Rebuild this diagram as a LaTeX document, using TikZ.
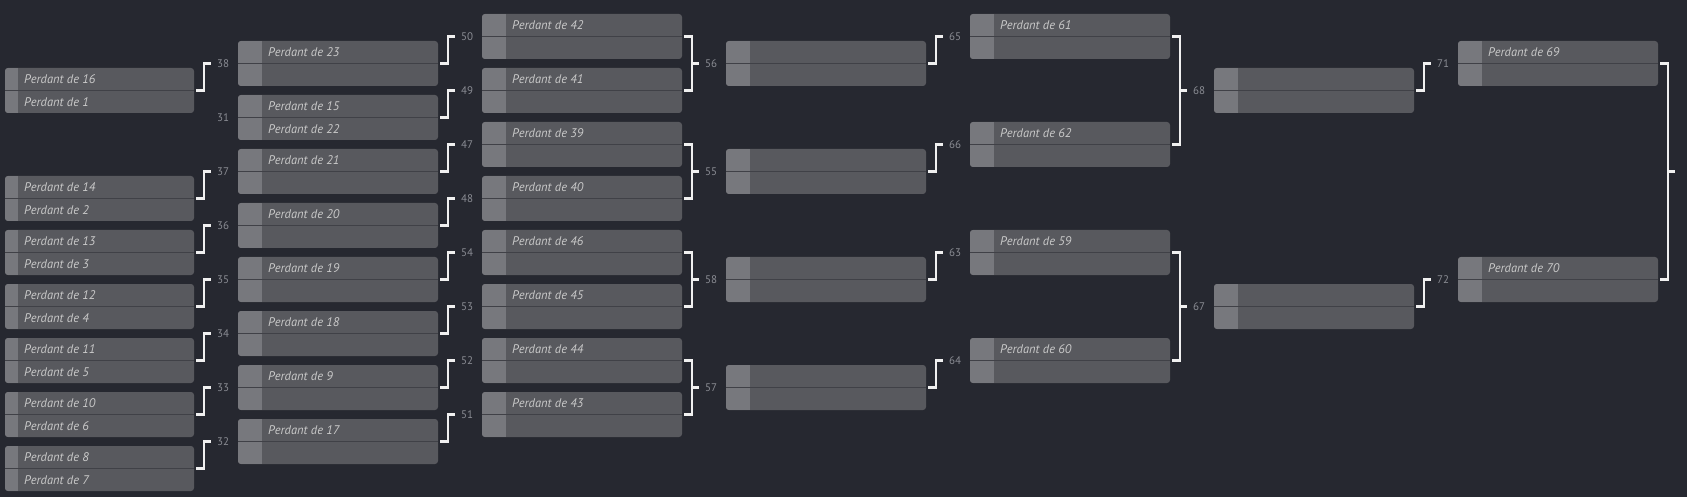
\documentclass[tikz,border=0pt]{standalone}
\usepackage{fontspec}
\setmainfont{PT Sans}
\usetikzlibrary{calc}
\definecolor{bg}{HTML}{262830}
\definecolor{boxc}{HTML}{58595E}
\definecolor{stripc}{HTML}{77787D}
\definecolor{divc}{HTML}{404147}
\definecolor{txtc}{HTML}{C9C9C9}
\definecolor{lblc}{HTML}{8B8D94}
\definecolor{linec}{HTML}{F0F0F0}
\tikzset{
  mbox/.style={fill=boxc, draw=none, rounded corners=3pt, minimum height=45pt, inner sep=0pt, outer sep=0pt},
  divline/.style={draw=divc, line width=1pt},
  ptxt/.style={anchor=west, inner sep=0pt, text=txtc, font=\fontsize{12.5}{15}\selectfont\itshape, text height=8.75pt, text depth=0pt},
  lbl/.style={anchor=west, inner sep=0pt, text=lblc, font=\fontsize{11}{13}\selectfont, text height=7.7pt, text depth=0pt},
  conn/.style={draw=linec, line width=2.2pt, line join=miter}
}
% name, x, ytop, width, strip, top text, bottom text
\newcommand{\matchb}[7]{%
  \node[mbox, minimum width=#4pt, anchor=north west] (#1) at (#2,#3) {};
  \begin{scope}
    \clip[rounded corners=3pt] (#1.north west) rectangle (#1.south east);
    \fill[stripc] (#1.north west) rectangle ([xshift=#5pt]#1.south west);
  \end{scope}
  \draw[divline] (#1.west) -- (#1.east);
  \if\relax\detokenize{#6}\relax\else
    \node[ptxt] (#1-t) at ($(#1.north west)!0.5!(#1.west)+(#5+6,0)$) {#6};
  \fi
  \if\relax\detokenize{#7}\relax\else
    \node[ptxt] (#1-b) at ($(#1.south west)!0.5!(#1.west)+(#5+6,0)$) {#7};
  \fi
}
% source, target, label
\newcommand{\stepc}[3]{%
  \draw[conn, shorten >=27pt] ([xshift=2pt]#1.east) -- ++(8,0) |- (#2.west);
  \node[lbl] (l#3) at ([xshift=-21pt]#2.west) {#3};
}
% upper source, lower source, target, label
\newcommand{\brackc}[4]{%
  \draw[conn] ([xshift=2pt]#1.east) -| ([xshift=10pt]#2.east) -- ([xshift=2pt]#2.east);
  \coordinate (v#4) at ([xshift=10pt]#1.east);
  \draw[conn, shorten >=27pt] (v#4 |- #3.west) -- (#3.west);
  \node[lbl] (l#4) at ([xshift=-21pt]#3.west) {#4};
}
\begin{document}
\begin{tikzpicture}[x=1pt,y=-1pt]
\fill[bg] (0,0) rectangle (1687,497);
\useasboundingbox (0,0) rectangle (1687,497);
% round 1
\matchb{a1}{5}{68}{189}{13}{Perdant de 16}{Perdant de 1}
\matchb{a3}{5}{176}{189}{13}{Perdant de 14}{Perdant de 2}
\matchb{a4}{5}{230}{189}{13}{Perdant de 13}{Perdant de 3}
\matchb{a5}{5}{284}{189}{13}{Perdant de 12}{Perdant de 4}
\matchb{a6}{5}{338}{189}{13}{Perdant de 11}{Perdant de 5}
\matchb{a7}{5}{392}{189}{13}{Perdant de 10}{Perdant de 6}
\matchb{a8}{5}{446}{189}{13}{Perdant de 8}{Perdant de 7}
% round 2
\matchb{b0}{238}{41}{200}{24}{Perdant de 23}{}
\matchb{b1}{238}{95}{200}{24}{Perdant de 15}{Perdant de 22}
\matchb{b2}{238}{149}{200}{24}{Perdant de 21}{}
\matchb{b3}{238}{203}{200}{24}{Perdant de 20}{}
\matchb{b4}{238}{257}{200}{24}{Perdant de 19}{}
\matchb{b5}{238}{311}{200}{24}{Perdant de 18}{}
\matchb{b6}{238}{365}{200}{24}{Perdant de 9}{}
\matchb{b7}{238}{419}{200}{24}{Perdant de 17}{}
% round 3
\matchb{c0}{482}{14}{200}{24}{Perdant de 42}{}
\matchb{c1}{482}{68}{200}{24}{Perdant de 41}{}
\matchb{c2}{482}{122}{200}{24}{Perdant de 39}{}
\matchb{c3}{482}{176}{200}{24}{Perdant de 40}{}
\matchb{c4}{482}{230}{200}{24}{Perdant de 46}{}
\matchb{c5}{482}{284}{200}{24}{Perdant de 45}{}
\matchb{c6}{482}{338}{200}{24}{Perdant de 44}{}
\matchb{c7}{482}{392}{200}{24}{Perdant de 43}{}
% round 4
\matchb{d0}{726}{41}{200}{24}{}{}
\matchb{d1}{726}{149}{200}{24}{}{}
\matchb{d2}{726}{257}{200}{24}{}{}
\matchb{d3}{726}{365}{200}{24}{}{}
% round 5
\matchb{e0}{970}{14}{200}{24}{Perdant de 61}{}
\matchb{e1}{970}{122}{200}{24}{Perdant de 62}{}
\matchb{e2}{970}{230}{200}{24}{Perdant de 59}{}
\matchb{e3}{970}{338}{200}{24}{Perdant de 60}{}
% round 6
\matchb{f0}{1214}{68}{200}{24}{}{}
\matchb{f1}{1214}{284}{200}{24}{}{}
% round 7
\matchb{g0}{1458}{41}{200}{24}{Perdant de 69}{}
\matchb{g1}{1458}{257}{200}{24}{Perdant de 70}{}
% connectors round 1 -> 2
\stepc{a1}{b0}{38}
\node[lbl] (l31) at ([xshift=-21pt]b1.west) {31};
\stepc{a3}{b2}{37}
\stepc{a4}{b3}{36}
\stepc{a5}{b4}{35}
\stepc{a6}{b5}{34}
\stepc{a7}{b6}{33}
\stepc{a8}{b7}{32}
% round 2 -> 3
\stepc{b0}{c0}{50}
\stepc{b1}{c1}{49}
\stepc{b2}{c2}{47}
\stepc{b3}{c3}{48}
\stepc{b4}{c4}{54}
\stepc{b5}{c5}{53}
\stepc{b6}{c6}{52}
\stepc{b7}{c7}{51}
% round 3 -> 4
\brackc{c0}{c1}{d0}{56}
\brackc{c2}{c3}{d1}{55}
\brackc{c4}{c5}{d2}{58}
\brackc{c6}{c7}{d3}{57}
% round 4 -> 5
\stepc{d0}{e0}{65}
\stepc{d1}{e1}{66}
\stepc{d2}{e2}{63}
\stepc{d3}{e3}{64}
% round 5 -> 6
\brackc{e0}{e1}{f0}{68}
\brackc{e2}{e3}{f1}{67}
% round 6 -> 7
\stepc{f0}{g0}{71}
\stepc{f1}{g1}{72}
% final
\draw[conn] ([xshift=2pt]g0.east) -| ([xshift=10pt]g1.east) -- ([xshift=2pt]g1.east);
\coordinate (vfin) at ([xshift=10pt]g0.east);
\coordinate (mfin) at ($(g0.east)!0.5!(g1.east)$);
\coordinate (tfin) at ($(mfin)+(17,0)$);
\draw[conn] (vfin |- mfin) -- (tfin);
\end{tikzpicture}
\end{document}
